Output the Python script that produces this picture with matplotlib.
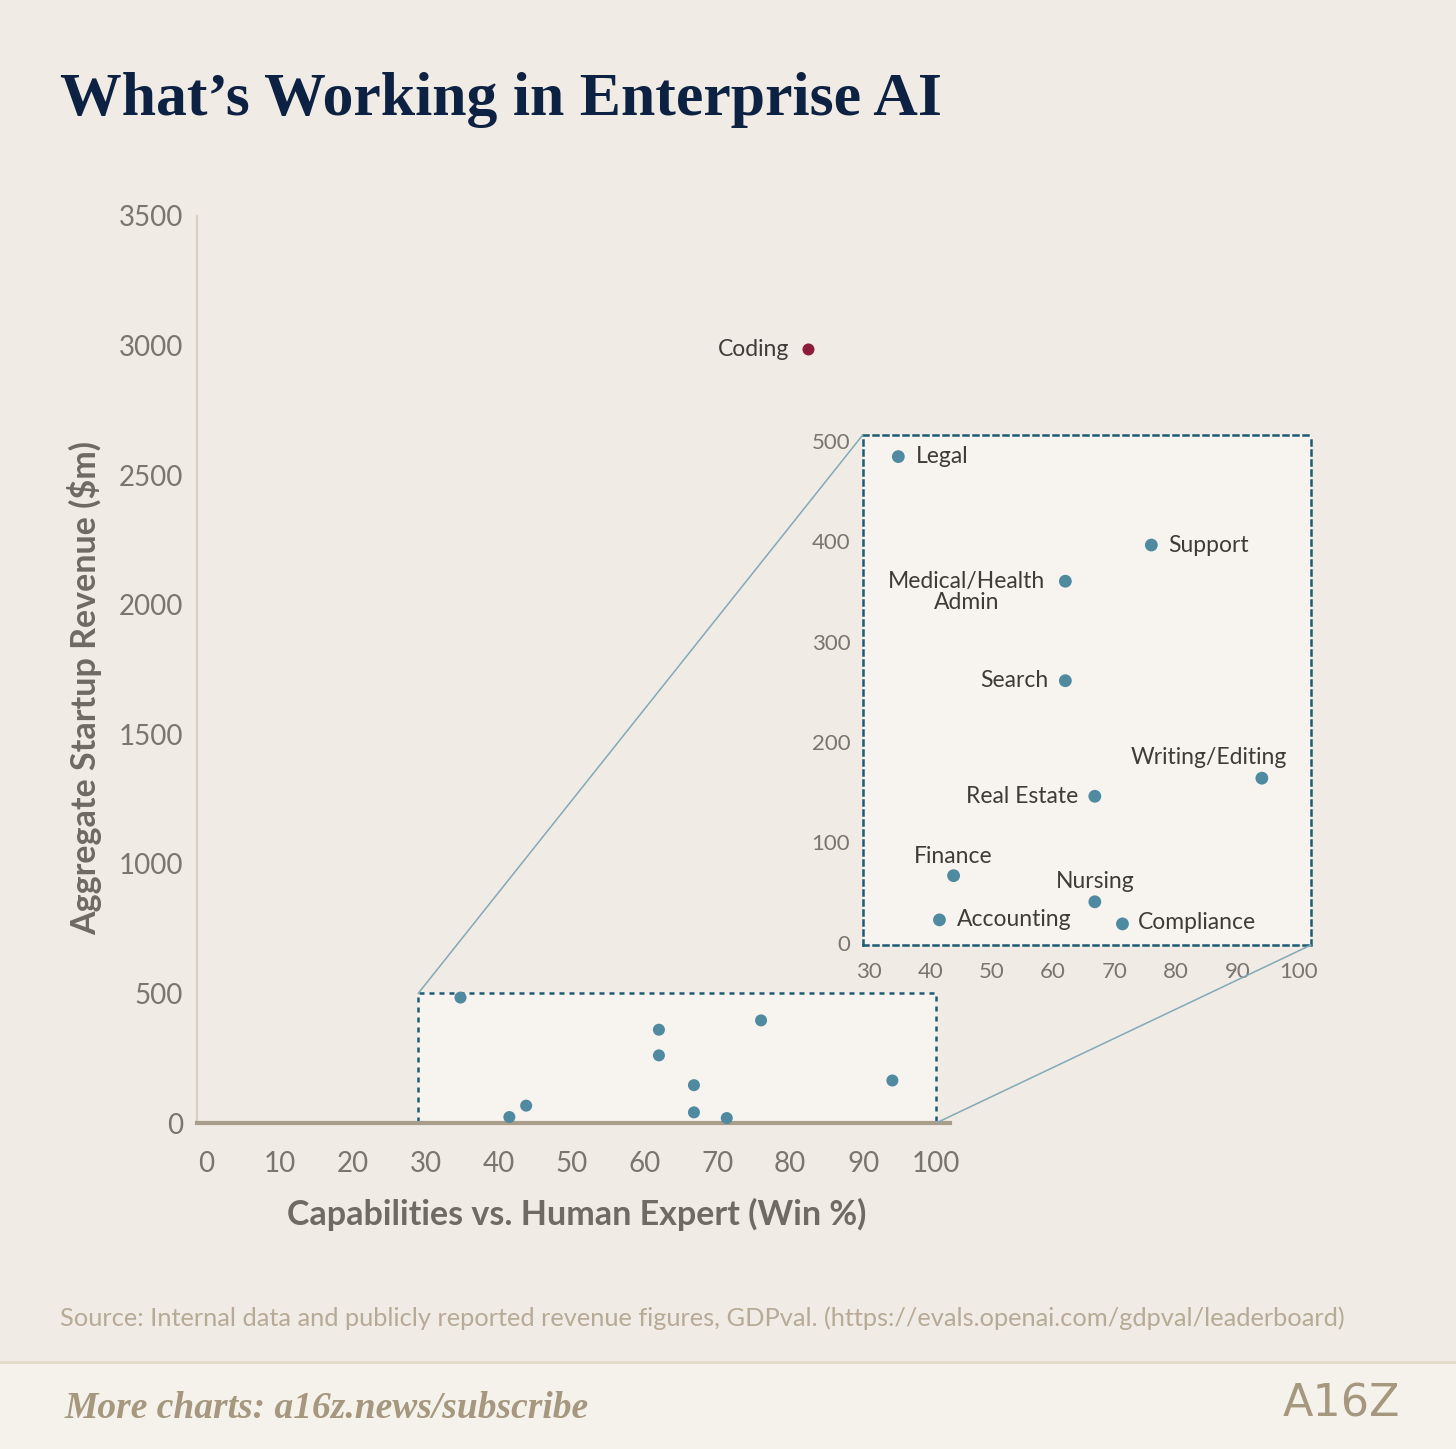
import matplotlib
matplotlib.use("Agg")
import matplotlib.pyplot as plt
from matplotlib.patches import Rectangle, ConnectionPatch

# data
sectors = ["Legal", "Support", "Medical/Health\nAdmin", "Search", "Writing/Editing",
           "Real Estate", "Finance", "Nursing", "Accounting", "Compliance"]
win_pct = [34.8, 76.0, 62.0, 62.0, 94.0, 66.8, 43.8, 66.8, 41.5, 71.3]
revenue = [484, 396, 360, 261, 164, 146, 67, 41, 23, 19]
coding_win = 82.5
coding_rev = 2985

main_xticks = [0, 10, 20, 30, 40, 50, 60, 70, 80, 90, 100]
main_yticks = [0, 500, 1000, 1500, 2000, 2500, 3000, 3500]
inset_xticks = [30, 40, 50, 60, 70, 80, 90, 100]
inset_yticks = [0, 100, 200, 300, 400, 500]

# label placement (pixel offsets from the point, alignment)
label_pos = {
    "Legal": (18, 0, "left", "center"),
    "Support": (17, 0, "left", "center"),
    "Medical/Health\nAdmin": (-20, -11, "right", "center"),
    "Search": (-17, 0, "right", "center"),
    "Writing/Editing": (25, 21, "right", "center"),
    "Real Estate": (-17, 0, "right", "center"),
    "Finance": (0, 19, "center", "center"),
    "Nursing": (0, 20, "center", "center"),
    "Accounting": (17, 0, "left", "center"),
    "Compliance": (15, 1, "left", "center"),
}

BG = "#f0ebe4"
INSET_BG = "#f7f3ee"
DOT = "#4f8aa0"
CODING = "#8c1c3a"
TICK = "#7a756e"
LABEL = "#3f3b37"
BOX = "#1d5a74"

plt.rcParams["font.family"] = ["Lato", "DejaVu Sans"]

fig = plt.figure(figsize=(14.56, 14.49), dpi=100, facecolor=BG)

# ---- main axes ----
ax = fig.add_axes([197 / 1456, 326 / 1449, 753 / 1456, 907 / 1449])
ax.set_facecolor(BG)
ax.set_xlim(-1.32, 101.9)
ax.set_ylim(0, 3500)
for s in ["top", "right"]:
    ax.spines[s].set_visible(False)
ax.spines["left"].set_color("#d9d1bf")
ax.spines["left"].set_linewidth(1.5)
ax.spines["bottom"].set_color("#a99d8b")
ax.spines["bottom"].set_linewidth(3)
ax.set_xticks(main_xticks)
ax.set_yticks(main_yticks)
ax.tick_params(length=0, labelsize=20, labelcolor=TICK)
ax.tick_params(axis="x", pad=20)
ax.tick_params(axis="y", pad=10)

ax.add_patch(Rectangle((29, 0), 71, 500, facecolor=INSET_BG, edgecolor=BOX,
                       linewidth=1.8, linestyle=(0, (2, 2)), zorder=2, clip_on=False))
ax.scatter(win_pct, revenue, s=75, color=DOT, edgecolor="none", zorder=3, clip_on=False)
ax.scatter([coding_win], [coding_rev], s=75, color=CODING, edgecolor="none", zorder=3)
ax.annotate("Coding", (coding_win, coding_rev), xytext=(-19, 0), textcoords="offset pixels",
            ha="right", va="center", fontsize=16.5, color=LABEL)

# ---- inset ----
ins = fig.add_axes([862.7 / 1456, (1449 - 945) / 1449, 448.3 / 1456, 510 / 1449])
ins.set_facecolor(INSET_BG)
ins.set_xlim(29, 102)
ins.set_ylim(-2, 505.5)
for s in ins.spines.values():
    s.set_color(BOX)
    s.set_linewidth(1.8)
    s.set_linestyle((0, (2, 2)))
ins.set_xticks(inset_xticks)
ins.set_yticks(inset_yticks)
ins.tick_params(length=0, labelsize=16, labelcolor=TICK)
ins.tick_params(axis="x", pad=12)
ins.tick_params(axis="y", pad=9)
ins.scatter(win_pct, revenue, s=85, color=DOT, edgecolor="none", zorder=3)
for name, x, y in zip(sectors, win_pct, revenue):
    dx, dy, ha, va = label_pos[name]
    ins.annotate(name, (x, y), xytext=(dx, dy), textcoords="offset pixels",
                 ha=ha, va=va, fontsize=16.5, color=LABEL, multialignment="center",
                 linespacing=1.0)

# zoom connector lines
for xa, ya, xb, yb in [(29, 500, 0, 1), (100, 0, 1, 0)]:
    con = ConnectionPatch(xyA=(xa, ya), coordsA=ax.transData, xyB=(xb, yb),
                          coordsB=ins.transAxes, color="#83a9b8", linewidth=1.1, zorder=1)
    fig.add_artist(con)

# ---- texts ----
fig.text(60 / 1456, 1 - 100 / 1449, "What’s Working in Enterprise AI",
         family=["Liberation Serif", "DejaVu Serif"], fontweight="bold",
         fontsize=44.5, color="#0d2242", ha="left", va="center")
fig.text(577 / 1456, 1 - 1214 / 1449, "Capabilities vs. Human Expert (Win %)",
         fontsize=24.5, fontweight="bold", color="#6e6a64", ha="center", va="center")
fig.text(85 / 1456, 1 - 688 / 1449, "Aggregate Startup Revenue ($m)", rotation=90,
         fontsize=24.5, fontweight="bold", color="#6e6a64", ha="center", va="center")
fig.text(60 / 1456, 1 - 1318 / 1449,
         "Source: Internal data and publicly reported revenue figures, GDPval. "
         "(https://evals.openai.com/gdpval/leaderboard)",
         fontsize=18.3, color="#b7aa96", ha="left", va="center")

# footer band
fig.add_artist(Rectangle((0, 0), 1, (1449 - 1362) / 1449, transform=fig.transFigure,
                         facecolor="#f5f2ec", edgecolor="none", zorder=0))
fig.add_artist(Rectangle((0, (1449 - 1364) / 1449), 1, 3 / 1449, transform=fig.transFigure,
                         facecolor="#e2dacb", edgecolor="none", zorder=0))
fig.text(65 / 1456, 1 - 1409 / 1449, "More charts: a16z.news/subscribe",
         family=["Liberation Serif", "DejaVu Serif"], fontstyle="italic", fontweight="bold",
         fontsize=27, color="#a6977f", ha="left", va="center")
fig.text(1400 / 1456, 1 - 1404 / 1449, "A16Z",
         family=["Liberation Sans Narrow", "DejaVu Sans"], fontsize=32,
         color="#a6977f", ha="right", va="center")

fig.savefig("out.png", dpi=100, facecolor=BG)
